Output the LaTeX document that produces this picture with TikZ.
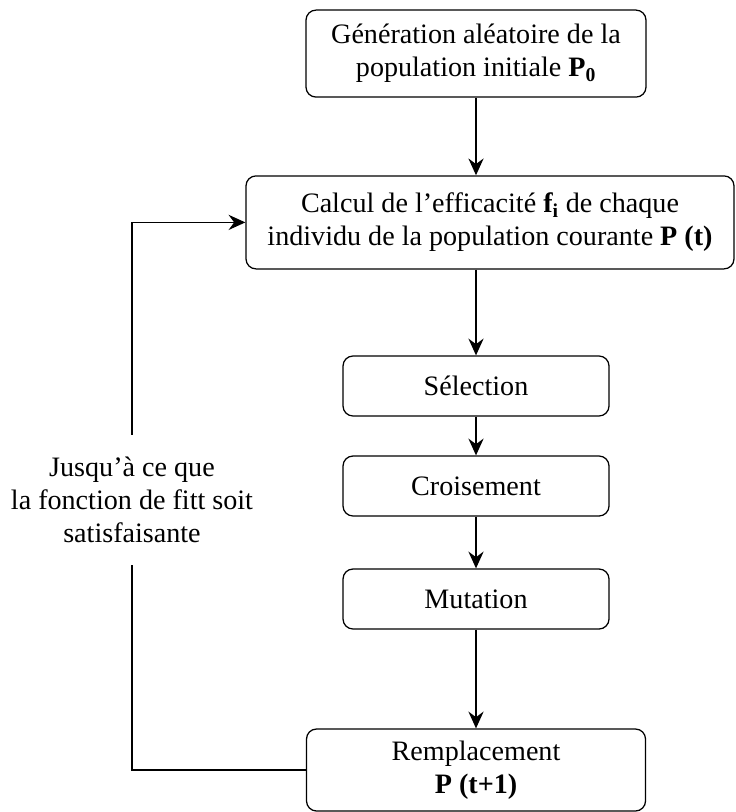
\documentclass[tikz,border=0pt]{standalone}
\usepackage{fontspec}
\setmainfont{Liberation Serif}
\usetikzlibrary{arrows.meta}
\tikzset{
    etape/.style={draw, rounded corners=0.25cm, line width=0.9pt, align=center, inner sep=0pt,
        font=\fontsize{20}{23.5}\selectfont},
    fleche/.style={-{Stealth[length=0.42cm,width=0.38cm,inset=0.14cm]}, line width=0.9pt}
}
\begin{document}
\begin{tikzpicture}
                \useasboundingbox (0,0) rectangle (18.375,-20.3);
                \node[etape, minimum width=8.5cm, minimum height=2.175cm] (gen) at (11.9,-1.34)
                    {G\'en\'eration al\'eatoire de la\\population initiale \textbf{P\textsubscript{0}}};
                \node[etape, minimum width=12.2cm, minimum height=2.325cm] (calc) at (12.25,-5.56)
                    {Calcul de l’efficacit\'e \textbf{f\textsubscript{i}} de chaque\\individu de la population courante \textbf{P (t)}};
                \node[etape, minimum width=6.65cm, minimum height=1.5cm] (sel) at (11.9,-9.65) {S\'election};
                \node[etape, minimum width=6.65cm, minimum height=1.5cm] (crois) at (11.9,-12.15) {Croisement};
                \node[etape, minimum width=6.65cm, minimum height=1.5cm] (mut) at (11.9,-14.975) {Mutation};
                \node[etape, minimum width=8.475cm, minimum height=2.05cm] (rep) at (11.9,-19.25)
                    {Remplacement\\\textbf{P (t+1)}};
                \node[align=center, inner xsep=0.3cm, inner ysep=0.55cm, font=\fontsize{20}{23.5}\selectfont] (cond) at (3.3,-12.5)
                    {Jusqu’à ce que\\la fonction de fitt soit\\satisfaisante};
                \foreach \a/\b in {gen/calc,calc/sel,sel/crois,crois/mut,mut/rep}
                {
                    \draw[fleche] (\a.south -| sel) -- (\b.north -| sel);
                }
                \draw[line width=0.9pt] (rep.west) -| (cond.south);
                \draw[fleche] (cond.north) |- (calc.west);
            \end{tikzpicture}
\end{document}
